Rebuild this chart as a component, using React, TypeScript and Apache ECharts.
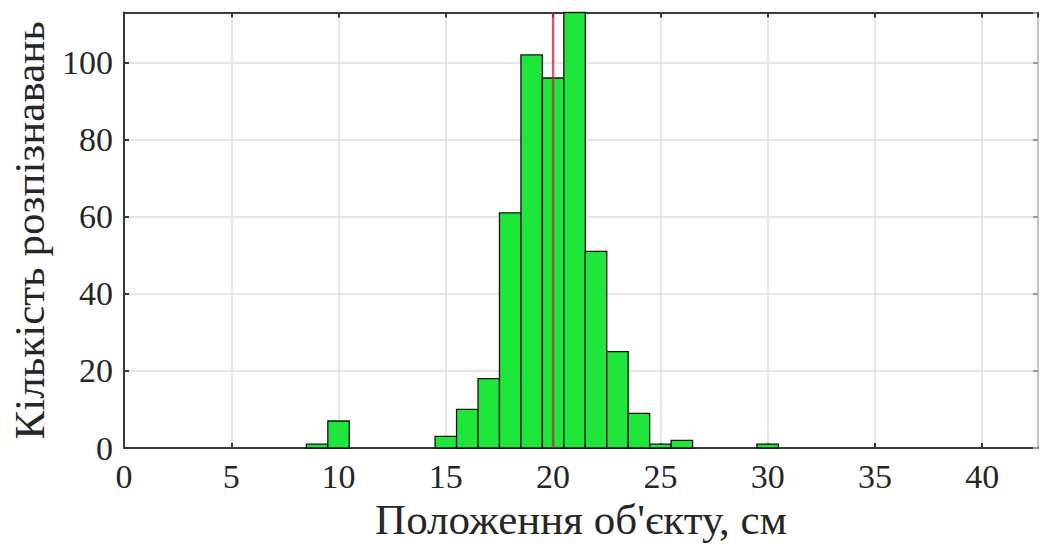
import React, { useEffect, useRef } from "react";
import * as echarts from "echarts";

// Histogram of detected object positions (1 cm bins centred on whole centimetres)
const binCenters = [9, 10, 15, 16, 17, 18, 19, 20, 21, 22, 23, 24, 25, 26, 30];
const binCounts = [1, 7, 3, 10, 18, 61, 102, 96, 118, 51, 25, 9, 1, 2, 1];
const binWidth = 1;

// Reference position marker
const markerX = 20;

const xTicks = [0, 5, 10, 15, 20, 25, 30, 35, 40];
const yTicks = [0, 20, 40, 60, 80, 100];
const xMax = 42.6;
const yMax = 113;

const xTitle = "Положення об'єкту, см";
const yTitle = "Кількість розпізнавань";

const FONT = "'Liberation Serif', 'Times New Roman', serif";
const BAR_FILL = "#1ee63a";
const AXIS_DARK = "#3a3a3a";
const GRID_LIGHT = "#dedede";

export default function App() {
  const ref = useRef<HTMLDivElement>(null);

  useEffect(() => {
    if (!ref.current) return;
    const chart = echarts.init(ref.current, undefined, { renderer: "svg" });

    const histData = binCenters.map((c, i) => [c, binCounts[i]]);

    const tickLabel = {
      fontFamily: FONT,
      fontSize: 34,
      color: "#262626",
    };

    chart.setOption({
      animation: false,
      backgroundColor: "#ffffff",
      grid: {
        left: 124,
        right: 7,
        top: 12.5,
        bottom: 107,
        containLabel: false,
        outerBoundsMode: "none",
      },
      xAxis: [
        {
          type: "value",
          position: "bottom",
          min: 0,
          max: xMax,
          interval: 5,
          name: xTitle,
          nameLocation: "middle",
          nameGap: 50,
          nameTextStyle: { fontFamily: FONT, fontSize: 43, color: "#262626" },
          axisLine: { show: true, onZero: false, lineStyle: { color: AXIS_DARK, width: 2 } },
          axisTick: { show: true, inside: true, length: 5, lineStyle: { color: AXIS_DARK, width: 2 } },
          axisLabel: {
            ...tickLabel,
            margin: 11,
            showMaxLabel: false,
            formatter: (v: number) => (xTicks.includes(v) ? String(v) : ""),
          },
          splitLine: { show: true, lineStyle: { color: GRID_LIGHT, width: 1.5 } },
        },
        {
          type: "value",
          position: "top",
          min: 0,
          max: xMax,
          interval: 5,
          axisLine: { show: true, onZero: false, lineStyle: { color: AXIS_DARK, width: 2 } },
          axisTick: { show: true, inside: true, length: 5, lineStyle: { color: AXIS_DARK, width: 2 } },
          axisLabel: { show: false },
          splitLine: { show: false },
        },
      ],
      yAxis: [
        {
          type: "value",
          position: "left",
          min: 0,
          max: yMax,
          interval: 20,
          name: yTitle,
          nameLocation: "middle",
          nameGap: 72,
          nameTextStyle: { fontFamily: FONT, fontSize: 43, color: "#262626" },
          axisLine: { show: true, onZero: false, lineStyle: { color: AXIS_DARK, width: 2 } },
          axisTick: { show: true, inside: true, length: 5, lineStyle: { color: AXIS_DARK, width: 2 } },
          axisLabel: {
            ...tickLabel,
            margin: 11,
            showMaxLabel: false,
            formatter: (v: number) => (yTicks.includes(v) ? String(v) : ""),
          },
          splitLine: { show: true, lineStyle: { color: GRID_LIGHT, width: 1.5 } },
        },
        {
          type: "value",
          position: "right",
          min: 0,
          max: yMax,
          interval: 20,
          axisLine: { show: true, onZero: false, lineStyle: { color: "#c4c4c4", width: 2 } },
          axisTick: { show: true, inside: true, length: 5, lineStyle: { color: "#9a9a9a", width: 2 } },
          axisLabel: { show: false },
          splitLine: { show: false },
        },
      ],
      series: [
        {
          type: "custom",
          xAxisIndex: 0,
          yAxisIndex: 0,
          data: histData,
          z: 3,
          renderItem: (_params: any, api: any) => {
            const x = api.value(0) as number;
            const y = api.value(1) as number;
            const top = Math.min(y, yMax);
            const p0 = api.coord([x - binWidth / 2, top]);
            const p1 = api.coord([x + binWidth / 2, 0]);
            return {
              type: "rect",
              shape: {
                x: p0[0],
                y: p0[1],
                width: p1[0] - p0[0],
                height: p1[1] - p0[1],
              },
              style: { fill: BAR_FILL, stroke: "#111111", lineWidth: 1.3 },
            };
          },
        },
        {
          type: "line",
          xAxisIndex: 0,
          yAxisIndex: 0,
          data: [
            [markerX, 0],
            [markerX, yMax],
          ],
          showSymbol: false,
          symbol: "none",
          z: 5,
          lineStyle: { color: "#c0203e", width: 2.5, opacity: 0.7 },
        },
      ],
    });

    return () => chart.dispose();
  }, []);

  return (
    <div
      ref={ref}
      style={{ position: "absolute", left: 0, top: 0, width: 1045, height: 555, background: "#fff" }}
    />
  );
}
